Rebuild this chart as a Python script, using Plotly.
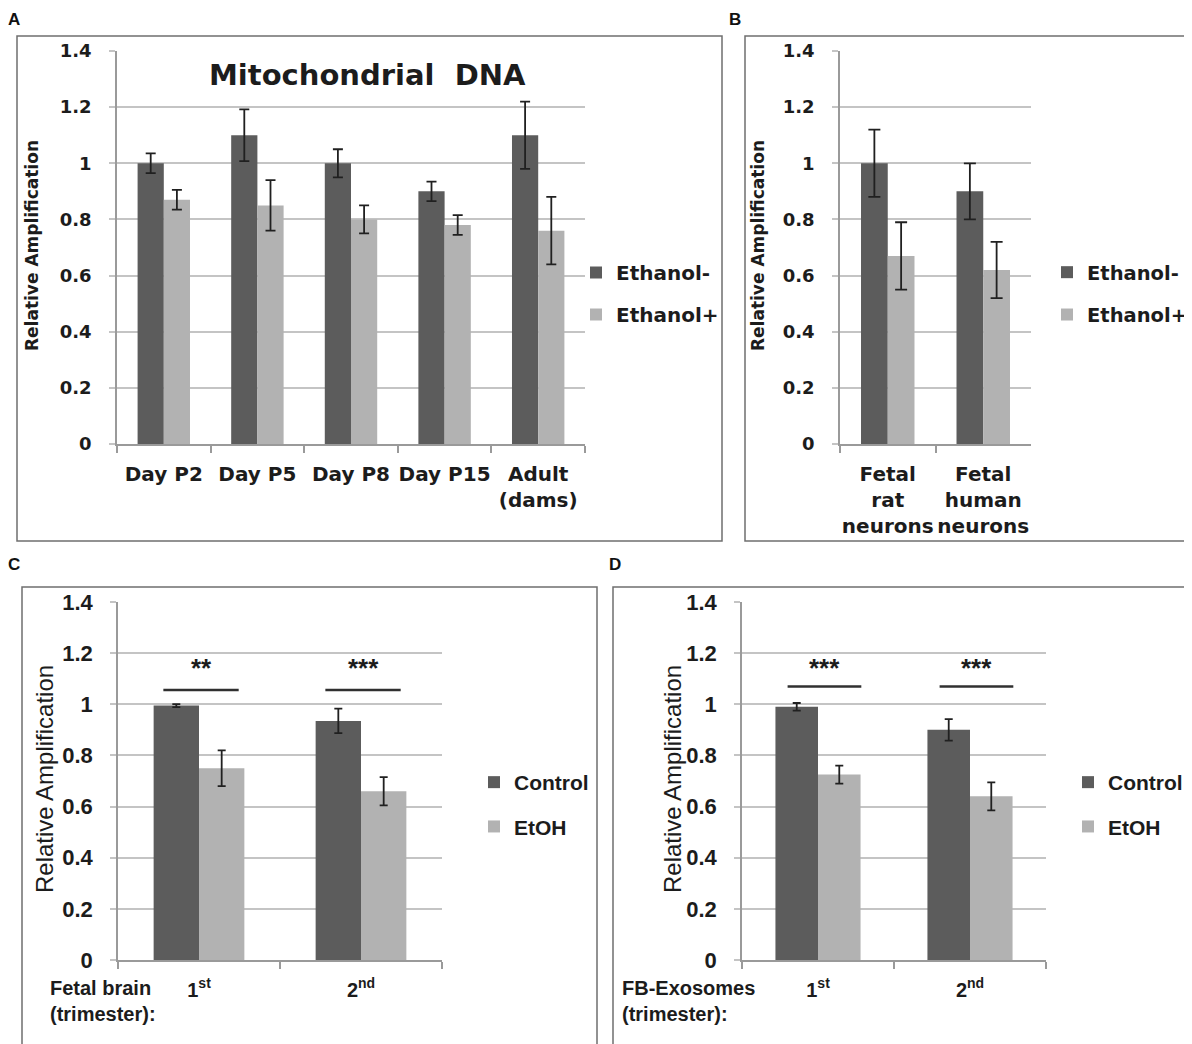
import plotly.graph_objects as go

W, H = 1192, 1044
OFF = 8  # page body margin of the rendered html

# ---------------- data ----------------
a_categories = ["Day P2", "Day P5", "Day P8", "Day P15", "Adult<br>(dams)"]
a_eth_minus = [1.00, 1.10, 1.00, 0.90, 1.10]
a_eth_minus_err = [0.035, 0.092, 0.05, 0.035, 0.12]
a_eth_plus = [0.87, 0.85, 0.80, 0.78, 0.76]
a_eth_plus_err = [0.035, 0.09, 0.05, 0.035, 0.12]

b_categories = ["Fetal<br>rat<br>neurons", "Fetal<br>human<br>neurons"]
b_eth_minus = [1.00, 0.90]
b_eth_minus_err = [0.12, 0.10]
b_eth_plus = [0.67, 0.62]
b_eth_plus_err = [0.12, 0.10]

c_categories = ["1<sup>st</sup>", "2<sup>nd</sup>"]
c_control = [0.995, 0.935]
c_control_err = [0.006, 0.048]
c_etoh = [0.75, 0.66]
c_etoh_err = [0.07, 0.055]
c_sig = ["**", "***"]

d_categories = ["1<sup>st</sup>", "2<sup>nd</sup>"]
d_control = [0.99, 0.90]
d_control_err = [0.015, 0.042]
d_etoh = [0.725, 0.64]
d_etoh_err = [0.035, 0.055]
d_sig = ["***", "***"]

y_ticks = [0, 0.2, 0.4, 0.6, 0.8, 1.0, 1.2, 1.4]

# ---------------- style ----------------
DARK = "#5c5c5c"
LIGHT = "#b2b2b2"
GRID = "#c4c4c4"
TXT = "#1c1c1c"
FA = "DejaVu Sans"        # panels A, B
FC = "Liberation Sans"    # panels C, D


def px(x):
    return (x - OFF) / W


def py(y):
    return 1 - (y - OFF) / H


fig = go.Figure()


def add_pair(xa, ya, cats, v1, e1, v2, e2, n1, n2, legend, capw):
    fig.add_trace(go.Bar(x=cats, y=v1, name=n1, marker_color=DARK, marker_line_width=0,
                         error_y=dict(type="data", array=e1, color="#202020", thickness=1.8, width=capw),
                         xaxis=xa, yaxis=ya, legend=legend, legendgroup=legend + n1))
    fig.add_trace(go.Bar(x=cats, y=v2, name=n2, marker_color=LIGHT, marker_line_width=0,
                         error_y=dict(type="data", array=e2, color="#202020", thickness=1.8, width=capw),
                         xaxis=xa, yaxis=ya, legend=legend, legendgroup=legend + n2))


add_pair("x", "y", a_categories, a_eth_minus, a_eth_minus_err, a_eth_plus, a_eth_plus_err,
         "Ethanol-", "Ethanol+", "legend", 5)
add_pair("x2", "y2", b_categories, b_eth_minus, b_eth_minus_err, b_eth_plus, b_eth_plus_err,
         "Ethanol-", "Ethanol+", "legend2", 6)
add_pair("x3", "y3", c_categories, c_control, c_control_err, c_etoh, c_etoh_err,
         "Control", "EtOH", "legend3", 4)
add_pair("x4", "y4", d_categories, d_control, d_control_err, d_etoh, d_etoh_err,
         "Control", "EtOH", "legend4", 4)

panels = {
    "": dict(x0=117, x1=585, y0=444, y1=51, fam=FA, tfs=20, yfs=18, xs=11, ys=14),
    "2": dict(x0=840, x1=1031, y0=444, y1=51, fam=FA, tfs=20, yfs=18, xs=11, ys=14),
    "3": dict(x0=118, x1=442, y0=960, y1=602, fam=FC, tfs=20, yfs=22, xs=11, ys=13),
    "4": dict(x0=742, x1=1046, y0=960, y1=602, fam=FC, tfs=20, yfs=22, xs=11, ys=13),
}

layout = {}
for k, p in panels.items():
    layout["xaxis" + k] = dict(
        domain=[px(p["x0"]), px(p["x1"])], anchor="y" + k, type="category", automargin=False,
        showline=True, linecolor="#9a9a9a", linewidth=1.5, tickangle=0,
        ticks="outside", tickson="boundaries", ticklen=7, tickcolor="#9a9a9a", tickwidth=1.5,
        ticklabelstandoff=p["xs"],
        tickfont=dict(family=p["fam"], size=p["tfs"], color=TXT, weight="bold"),
        showgrid=False, fixedrange=True,
    )
    layout["yaxis" + k] = dict(
        domain=[py(p["y0"]), py(p["y1"])], anchor="x" + k, range=[0, 1.4], automargin=False,
        tickvals=y_ticks, showline=True, linecolor="#9a9a9a", linewidth=1.5,
        showgrid=True, gridcolor=GRID, gridwidth=1.5,
        ticks="outside", ticklen=6, tickcolor=GRID, tickwidth=1.5,
        ticklabelstandoff=p["ys"],
        tickfont=dict(family=p["fam"], size=p["yfs"], color=TXT, weight="bold"),
        zeroline=False, fixedrange=True,
    )


def leg(x, y, fam, size, gap):
    return dict(x=px(x), y=py(y), xanchor="left", yanchor="top", bgcolor="rgba(0,0,0,0)",
                font=dict(family=fam, size=size, color=TXT, weight="bold"),
                tracegroupgap=gap, itemwidth=30, traceorder="grouped")


layout["legend"] = leg(576, 253, FA, 20, 13)
layout["legend2"] = leg(1047, 253, FA, 19.5, 14)
layout["legend3"] = leg(474, 762, FC, 21, 14)
layout["legend4"] = leg(1068, 762, FC, 21, 14)

shapes = []
for (x0, y0, x1, y1) in [(17, 36, 722, 541), (745, 36, 1210, 541), (22, 587, 597, 1070), (613, 587, 1190, 1070)]:
    shapes.append(dict(type="rect", xref="paper", yref="paper", x0=px(x0), x1=px(x1), y0=py(y1), y1=py(y0),
                       line=dict(color="#6f6f6f", width=1.5), layer="below"))

annotations = []
for lab, (x, y) in {"A": (14, 20), "B": (735, 20), "C": (14, 564), "D": (615, 564)}.items():
    annotations.append(dict(text=lab, x=px(x), y=py(y), xref="paper", yref="paper", showarrow=False,
                            xanchor="center", yanchor="middle",
                            font=dict(family=FC, size=17, color="#111", weight="bold")))

annotations.append(dict(text="Mitochondrial  DNA", x=px(367), y=py(75), xref="paper", yref="paper",
                        showarrow=False, xanchor="center", yanchor="middle",
                        font=dict(family=FA, size=29, color=TXT, weight="bold")))

for (x, y, fam, size, wt) in [(32, 246, FA, 17, "bold"), (758, 246, FA, 17, "bold"),
                              (44, 779, FC, 24, "normal"), (672, 779, FC, 24, "normal")]:
    annotations.append(dict(text="Relative Amplification", x=px(x), y=py(y), xref="paper", yref="paper",
                            showarrow=False, textangle=-90, xanchor="center", yanchor="middle",
                            font=dict(family=fam, size=size, color=TXT, weight=wt)))

for (x, t) in [(48, "Fetal brain<br>(trimester):"), (620, "FB-Exosomes<br>(trimester):")]:
    annotations.append(dict(text=t, x=px(x), y=py(975), xref="paper", yref="paper", showarrow=False,
                            xanchor="left", yanchor="top", align="left",
                            font=dict(family=FC, size=20, color=TXT, weight="bold")))

# significance bars (offsets relative to category centre, in category units)
sig_style = {"3": dict(sig=c_sig, lo=-0.22, hi=0.245, ly=1.056),
             "4": dict(sig=d_sig, lo=-0.20, hi=0.285, ly=1.07)}
for k, s in sig_style.items():
    for i, lab in enumerate(s["sig"]):
        shapes.append(dict(type="line", xref="x" + k, yref="y" + k, x0=i + s["lo"], x1=i + s["hi"],
                           y0=s["ly"], y1=s["ly"], line=dict(color="#303030", width=2.5)))
        annotations.append(dict(text=lab, x=i + (s["lo"] + s["hi"]) / 2, y=1.14, xref="x" + k, yref="y" + k,
                                showarrow=False, xanchor="center", yanchor="middle",
                                font=dict(family=FC, size=26, color=TXT, weight="bold")))

fig.update_layout(
    width=W, height=H, margin=dict(l=0, r=0, t=0, b=0, autoexpand=False),
    paper_bgcolor="white", plot_bgcolor="white",
    barmode="group", bargap=0.44, bargroupgap=0,
    shapes=shapes, annotations=annotations, showlegend=True,
    **layout,
)

fig.write_html("out.html")
